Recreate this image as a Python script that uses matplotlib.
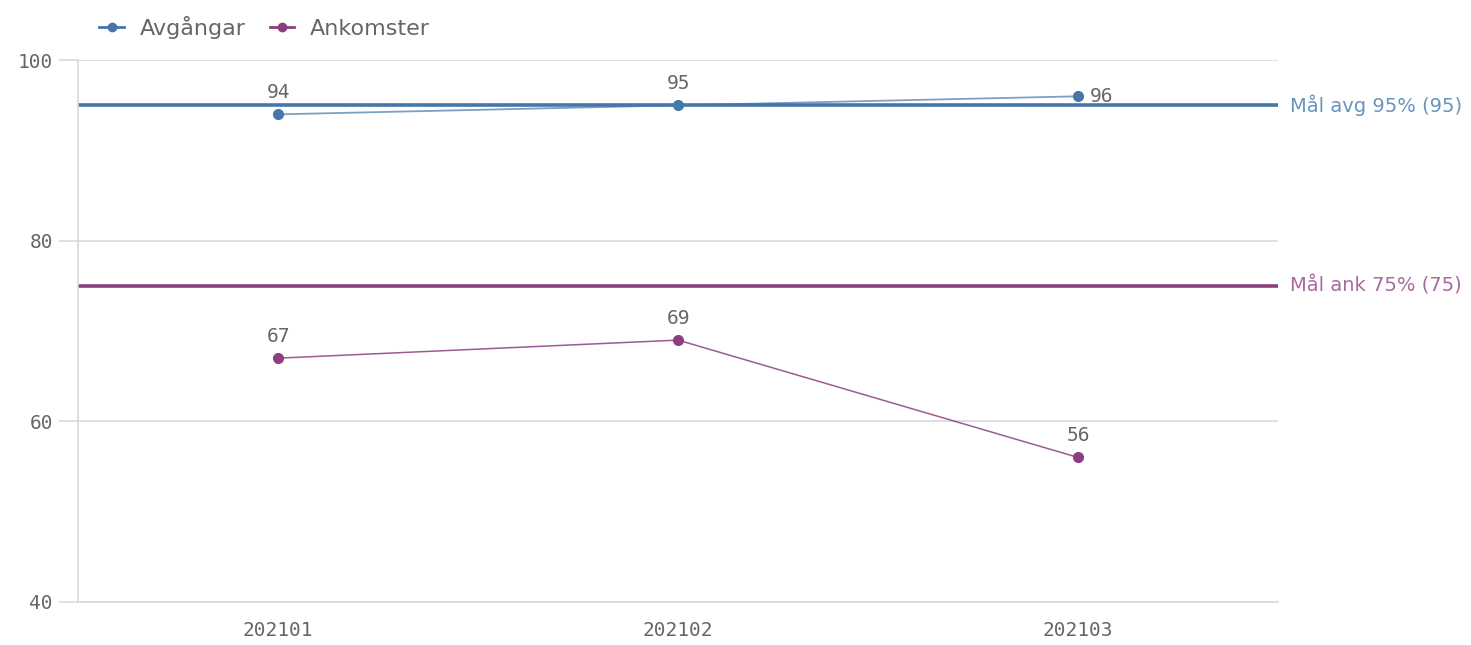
import matplotlib.pyplot as plt

periods = ["202101", "202102", "202103"]
avgangar = [94, 95, 96]
ankomster = [67, 69, 56]
mal_avg = 95
mal_ank = 75

blue = "#4477aa"
purple = "#8b3f80"
grid_c = "#d9d9d9"
text_c = "#666666"
mono = "DejaVu Sans Mono"

fig = plt.figure(figsize=(14.71, 6.45), dpi=100)
ax = fig.add_axes([0.053, 0.0667, 0.816, 0.840])

x = list(range(len(periods)))

ax.axhline(mal_avg, color=blue, lw=2.6, zorder=2)
ax.axhline(mal_ank, color=purple, lw=2.6, zorder=2)

ax.plot(x, avgangar, color=blue, lw=1.3, alpha=0.7, zorder=3)
ax.plot(x, avgangar, "o", color=blue, ms=7, zorder=4)
ax.plot(x, ankomster, color=purple, lw=1.1, alpha=0.85, zorder=3)
ax.plot(x, ankomster, "o", color=purple, ms=7, zorder=4)

for i, v in enumerate(avgangar):
    if i == len(avgangar) - 1:
        ax.annotate(str(v), (i, v), xytext=(8, 0), textcoords="offset points",
                    ha="left", va="center", color=text_c, fontsize=14, family=mono)
    else:
        ax.annotate(str(v), (i, v), xytext=(0, 9), textcoords="offset points",
                    ha="center", va="bottom", color=text_c, fontsize=14, family=mono)
for i, v in enumerate(ankomster):
    ax.annotate(str(v), (i, v), xytext=(0, 9), textcoords="offset points",
                ha="center", va="bottom", color=text_c, fontsize=14, family=mono)

ax.text(1.01, mal_avg, "Mål avg 95% (95)", transform=ax.get_yaxis_transform(),
        ha="left", va="center", color="#6a93c0", fontsize=14)
ax.text(1.01, mal_ank, "Mål ank 75% (75)", transform=ax.get_yaxis_transform(),
        ha="left", va="center", color="#a86a9f", fontsize=14)

ax.set_xlim(-0.5, 2.5)
ax.set_ylim(40, 100)
ax.set_yticks([40, 60, 80, 100])
ax.set_xticks(x)
ax.set_xticklabels(periods)
ax.grid(axis="y", color=grid_c, lw=1.2)
ax.set_axisbelow(True)
for s in ["top", "right"]:
    ax.spines[s].set_visible(False)
for s in ["left", "bottom"]:
    ax.spines[s].set_color(grid_c)
    ax.spines[s].set_linewidth(1.2)
ax.tick_params(axis="y", length=14, color=grid_c, width=1.2, pad=4,
               labelsize=14, labelcolor=text_c)
ax.tick_params(axis="x", length=0, pad=14, labelsize=14, labelcolor=text_c)
for lab in ax.get_xticklabels() + ax.get_yticklabels():
    lab.set_family(mono)

h1, = ax.plot([], [], "-o", color=blue, ms=6, lw=2)
h2, = ax.plot([], [], "-o", color=purple, ms=6, lw=2)
fig.legend([h1, h2], ["Avgångar", "Ankomster"], loc="upper left",
           bbox_to_anchor=(0.054, 1.006), ncol=2, frameon=False, fontsize=16,
           labelcolor=text_c, handlelength=1.1, columnspacing=1.1, handletextpad=0.7)

fig.savefig("out.png", dpi=100)
